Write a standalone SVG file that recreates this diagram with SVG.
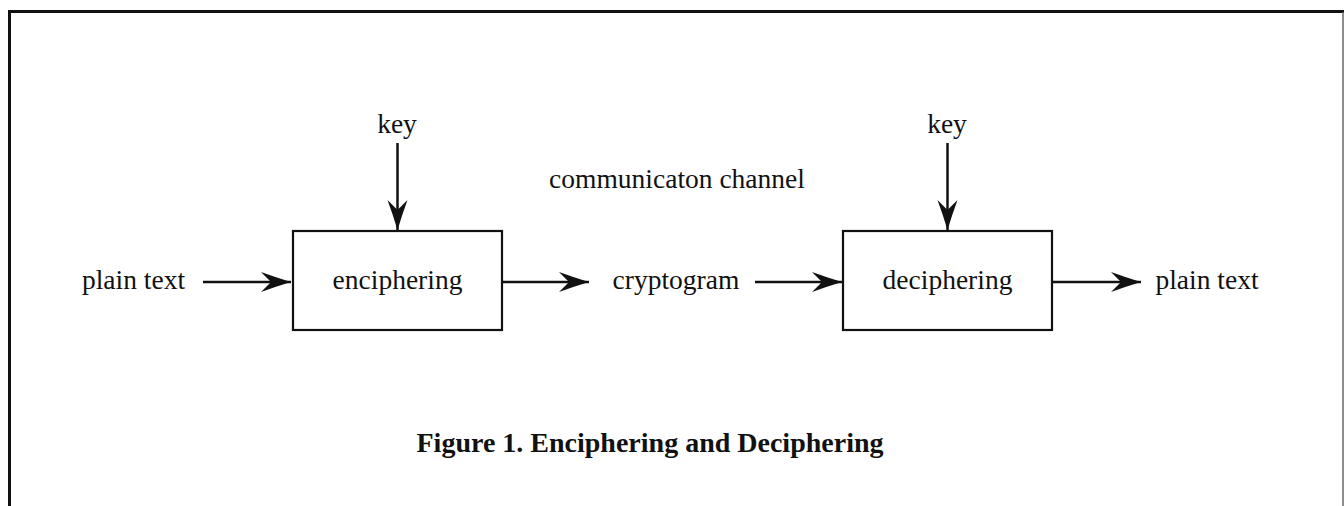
<svg xmlns="http://www.w3.org/2000/svg" width="1344" height="506" viewBox="0 0 1344 506">
<style>
.t{font-family:"Liberation Serif","Times New Roman",serif;font-size:27.5px;fill:#111;text-anchor:middle}
.title{font-family:"Liberation Serif","Times New Roman",serif;font-size:28px;font-weight:bold;fill:#111;text-anchor:middle}
.box{fill:#fff;stroke:#111;stroke-width:2.2}
.conn{stroke:#111;stroke-width:2.5;fill:none}
</style>
<defs>
<marker id="ah" markerUnits="userSpaceOnUse" markerWidth="36" markerHeight="26" viewBox="-32 -13 36 26" refX="0" refY="0" orient="auto">
<path d="M0,0 Q-15,-4.5 -30,-10 L-20,0 L-30,10 Q-15,4.5 0,0 Z" fill="#111"/>
</marker>
</defs>
<rect width="1344" height="506" fill="#fff"/>
<g id="frame">
<path d="M9.5,506 V11.5 H1344" fill="none" stroke="#111" stroke-width="3"/>
<line x1="1343" y1="12" x2="1343" y2="506" stroke="#666" stroke-width="1.5"/>
</g>
<g id="connectors">
<line class="conn" x1="203" y1="282" x2="291" y2="282" marker-end="url(#ah)"/>
<line class="conn" x1="397.5" y1="143" x2="397.5" y2="230" marker-end="url(#ah)"/>
<line class="conn" x1="502" y1="282" x2="589" y2="282" marker-end="url(#ah)"/>
<line class="conn" x1="755" y1="282" x2="842" y2="282" marker-end="url(#ah)"/>
<line class="conn" x1="947.5" y1="143" x2="947.5" y2="230" marker-end="url(#ah)"/>
<line class="conn" x1="1052" y1="282" x2="1141" y2="282" marker-end="url(#ah)"/>
</g>
<g id="plain-text-in"><text class="t" x="133.5" y="289">plain text</text></g>
<g id="key1"><text class="t" x="397" y="133">key</text></g>
<g id="enciphering">
<rect class="box" x="293" y="231" width="209" height="99"/>
<text class="t" x="397.5" y="289">enciphering</text>
</g>
<g id="channel"><text class="t" x="677" y="188">communicaton channel</text></g>
<g id="cryptogram"><text class="t" x="676" y="289">cryptogram</text></g>
<g id="key2"><text class="t" x="947" y="133">key</text></g>
<g id="deciphering">
<rect class="box" x="843" y="231" width="209" height="99"/>
<text class="t" x="947.5" y="289">deciphering</text>
</g>
<g id="plain-text-out"><text class="t" x="1207" y="289">plain text</text></g>
<g id="caption"><text class="title" x="650" y="452">Figure 1. Enciphering and Deciphering</text></g>
</svg>
